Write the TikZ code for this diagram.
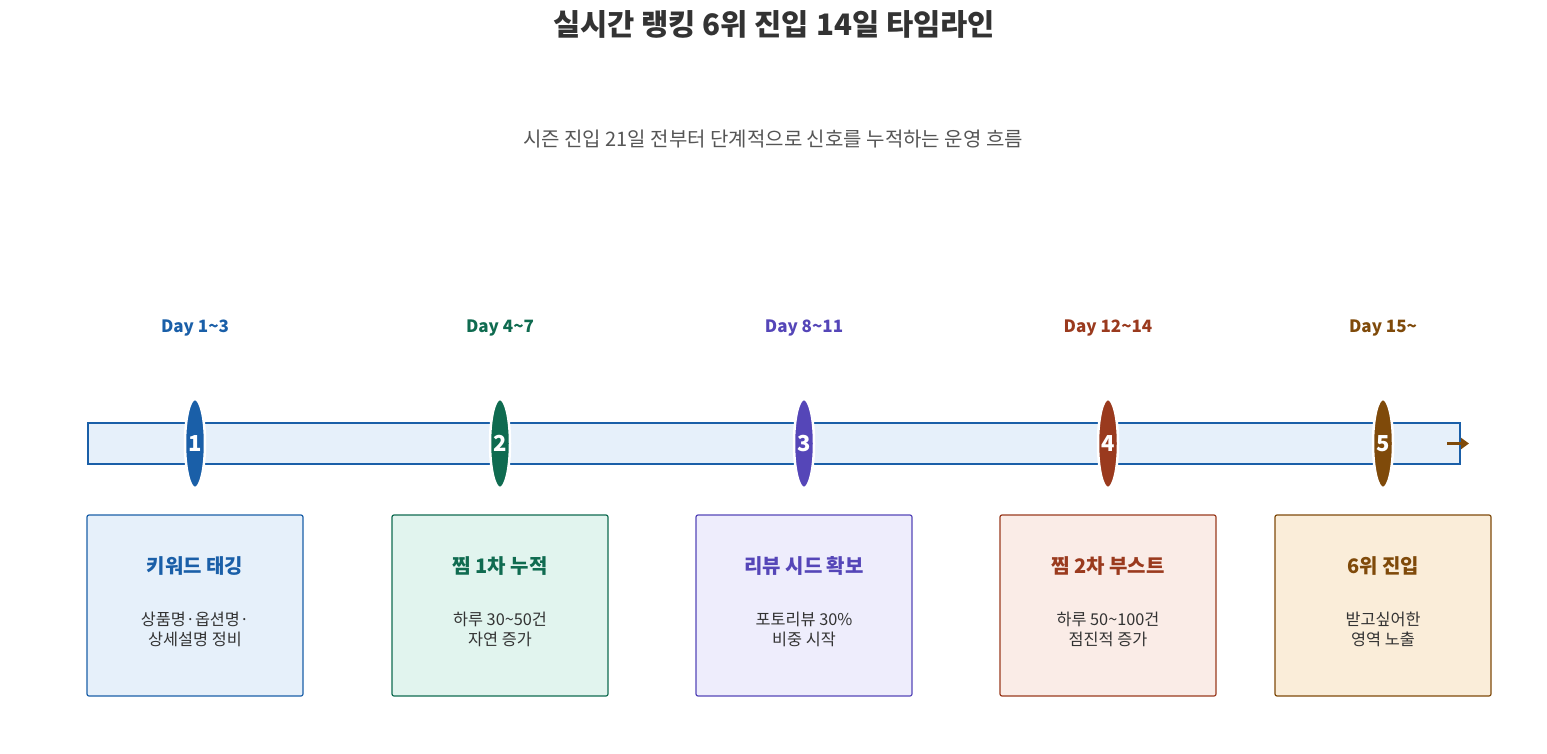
\documentclass[tikz,border=0pt]{standalone}
\usepackage{fontspec}
\setmainfont{Noto Sans CJK KR}
\usetikzlibrary{shapes.geometric,arrows.meta}
\definecolor{cA}{HTML}{1A5FA8}\definecolor{fA}{HTML}{E6F0FA}
\definecolor{cB}{HTML}{0F6B50}\definecolor{fB}{HTML}{E1F4EE}
\definecolor{cC}{HTML}{5546B8}\definecolor{fC}{HTML}{EEEDFC}
\definecolor{cD}{HTML}{9A3A1E}\definecolor{fD}{HTML}{FAECE7}
\definecolor{cE}{HTML}{7F4A0A}\definecolor{fE}{HTML}{FAEDD9}
\definecolor{txt}{HTML}{333333}\definecolor{sub}{HTML}{555555}
\tikzset{
 marker/.style={ellipse,minimum width=20pt,minimum height=89pt,inner sep=0pt,draw=white,line width=2.5pt,fill=#1,text=white,font=\bfseries\fontsize{22}{22}\selectfont},
 card/.style={draw=#1,line width=1.2pt,rounded corners=2pt,minimum width=216pt,minimum height=181pt},
 day/.style={font=\bfseries\fontsize{17}{18}\selectfont,text=#1},
 ctitle/.style={font=\bfseries\fontsize{20}{22}\selectfont,text=#1},
 cdesc/.style={font=\fontsize{16.3}{20}\selectfont,text=txt,align=center},
}
\begin{document}
\begin{tikzpicture}[x=1pt,y=-1pt]
\useasboundingbox (0,0) rectangle (1547,754);
\node[font=\bfseries\fontsize{29.6}{32}\selectfont,text=txt] (title) at (774,24) {실시간 랭킹 6위 진입 14일 타임라인};
\node[font=\fontsize{20}{22}\selectfont,text=sub] (subtitle) at (773,139) {시즌 진입 21일 전부터 단계적으로 신호를 누적하는 운영 흐름};
\node[draw=cA,fill=fA,line width=1.5pt,minimum width=1372pt,minimum height=41pt,inner sep=0pt] (bar) at (774,443.5) {};
\coordinate (as) at (1447,443.5);\coordinate (ae) at (1469,443.5);
\draw[cE,line width=3.5pt,-{Triangle[length=8pt,width=11pt]}] (as) -- (ae);
\foreach \n/\x/\c/\d/\t/\da/\db in {1/195/A/Day 1\textasciitilde3/키워드 태깅/상품명·옵션명·/상세설명 정비,
 2/500/B/Day 4\textasciitilde7/찜 1차 누적/하루 30\textasciitilde50건/자연 증가,
 3/804/C/Day 8\textasciitilde11/리뷰 시드 확보/포토리뷰 30\%/비중 시작,
 4/1108/D/Day 12\textasciitilde14/찜 2차 부스트/하루 50\textasciitilde100건/점진적 증가,
 5/1383/E/Day 15\textasciitilde/6위 진입/받고싶어한/영역 노출}{
 \node[day=c\c] (day\n) at (\x,328) {\d};
 \node[marker=c\c] (m\n) at (\x,443.5) {\n};
 \node[card=c\c,fill=f\c] (card\n) at (\x,605.5) {};
 \node[ctitle=c\c] (ct\n) at (\x,566) {\t};
 \node[cdesc] (cd\n) at (\x,629) {\da\\\db};
}
\end{tikzpicture}
\end{document}
